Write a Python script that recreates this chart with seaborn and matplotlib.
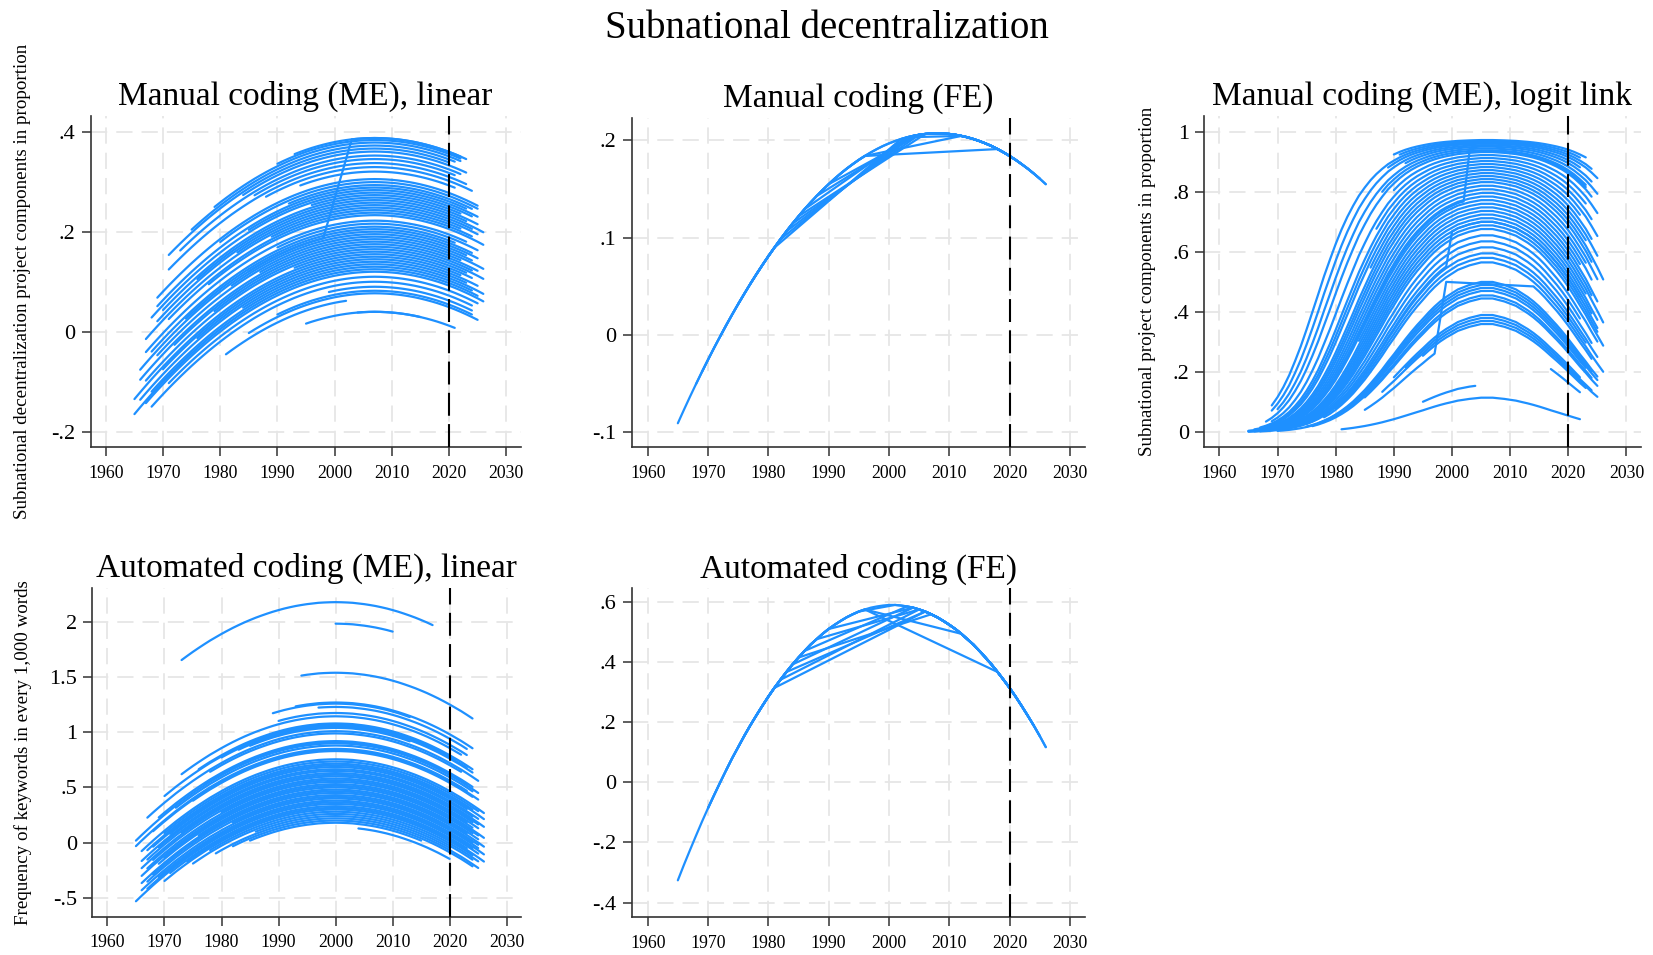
import numpy as np
import pandas as pd
import matplotlib
matplotlib.use("Agg")
import matplotlib.pyplot as plt
from matplotlib.ticker import FixedLocator, FixedFormatter
import seaborn as sns

# ------------------------------------------------------------------ data
TITLE = "Subnational decentralization"
PANEL_TITLES = ["Manual coding (ME), linear", "Manual coding (FE)",
                "Manual coding (ME), logit link",
                "Automated coding (ME), linear", "Automated coding (FE)"]
Y_LABELS = ["Subnational decentralization project components in proportion", "",
            "Subnational project components in proportion",
            "Frequency of keywords in every 1,000 words", ""]
X_TICKS = [1960, 1970, 1980, 1990, 2000, 2010, 2020, 2030]
CUTOFF_YEAR = 2020
FIRST_YEAR = 1965

Y_TICKS = [[-0.2, 0, 0.2, 0.4], [-0.1, 0, 0.1, 0.2], [0, 0.2, 0.4, 0.6, 0.8, 1],
           [-0.5, 0, 0.5, 1, 1.5, 2], [-0.4, -0.2, 0, 0.2, 0.4, 0.6]]
Y_TICK_LABELS = [["-.2", "0", ".2", ".4"], ["-.1", "0", ".1", ".2"],
                 ["0", ".2", ".4", ".6", ".8", "1"],
                 ["-.5", "0", ".5", "1", "1.5", "2"],
                 ["-.4", "-.2", "0", ".2", ".4", ".6"]]

# Panel 1: manual coding ME linear -- drop below each country's peak, 1965..2026
P1_DROP = [0.2893, 0.2757, 0.2624, 0.2494, 0.2368, 0.2245, 0.2125, 0.2009, 0.1896, 0.1786,
           0.1679, 0.1576, 0.1476, 0.1379, 0.1286, 0.1196, 0.1109, 0.1025, 0.0945, 0.0868,
           0.0794, 0.0723, 0.0656, 0.0592, 0.0531, 0.0474, 0.0420, 0.0369, 0.0321, 0.0277,
           0.0236, 0.0198, 0.0164, 0.0133, 0.0105, 0.0080, 0.0059, 0.0041, 0.0026, 0.0015,
           0.0007, 0.0002, 0.0000, 0.0002, 0.0007, 0.0015, 0.0026, 0.0041, 0.0059, 0.0080,
           0.0105, 0.0133, 0.0164, 0.0198, 0.0236, 0.0277, 0.0321, 0.0369, 0.0420, 0.0474,
           0.0531, 0.0592]
P1_START = [1993, 1990, 1979, 1975, 1971, 1984, 1973, 1986, 1971, 1988, 1994,
            1969, 1980, 1992, 1969, 1985, 1968, 1996, 1970, 1976, 1969, 1983, 1967, 1989, 1971, 1978,
            1967, 1990, 1968, 1974, 1966, 1982, 1969, 1987, 1966, 1972, 1979, 1967, 1993, 1965,
            1970, 1976, 1966, 1984, 1968, 1965, 1967,
            1971, 1968, 1999, 1990, 1985, 1981, 1995, 2004]
P1_END = [2023, 2022, 2022, 2021, 2020, 2023, 2022, 2021, 2023, 2024, 2021,
          2025, 2025, 2024, 2023, 2025, 2024, 2022, 2025, 2023, 2026, 2024, 2025, 2022, 2024, 2026,
          2023, 2025, 2021, 2024, 2025, 2023, 2024, 2026, 2022, 2025, 2024, 2026, 2023, 2024,
          2022, 2025, 2023, 2026, 2024, 2025, 2026,
          2025, 2024, 2024, 2024, 2025, 2002, 2021, 2015]
P1_PEAK = [0.387, 0.383, 0.378, 0.372, 0.366, 0.360, 0.352, 0.345, 0.337, 0.329, 0.320,
           0.305, 0.299, 0.293, 0.288, 0.283, 0.278, 0.273, 0.268, 0.263, 0.258, 0.253, 0.248,
           0.243, 0.238, 0.233,
           0.222, 0.216, 0.210, 0.205, 0.200, 0.195, 0.190, 0.185, 0.180, 0.175, 0.170, 0.165,
           0.160, 0.155, 0.150, 0.145, 0.140, 0.135, 0.130, 0.125, 0.120,
           0.110, 0.100, 0.090, 0.082, 0.077, 0.066, 0.040, 0.040]
# country whose level jumps between two spans: (start, end, peak)
P1_JUMPS = [[(1985, 1998, 0.200), (2003, 2022, 0.387)]]

# Panel 2: manual coding FE -- common fitted curve, 1965..2026
P2_CURVE = [-0.0907, -0.0770, -0.0636, -0.0506, -0.0379, -0.0255, -0.0134, -0.0017, 0.0098, 0.0209,
            0.0317, 0.0421, 0.0523, 0.0621, 0.0716, 0.0808, 0.0896, 0.0982, 0.1064, 0.1143,
            0.1218, 0.1291, 0.1360, 0.1426, 0.1489, 0.1548, 0.1605, 0.1658, 0.1708, 0.1754,
            0.1798, 0.1838, 0.1875, 0.1909, 0.1940, 0.1967, 0.1991, 0.2012, 0.2030, 0.2044,
            0.2056, 0.2064, 0.2068, 0.2070, 0.2068, 0.2064, 0.2056, 0.2044, 0.2030, 0.2012,
            0.1991, 0.1967, 0.1940, 0.1909, 0.1875, 0.1838, 0.1798, 0.1754, 0.1708, 0.1658,
            0.1605, 0.1548]
# observed year spans per country, in drawing order
P2_COUNTRIES = [[(1965, 2026)],
                [(1969, 1981), (2002, 2020)],
                [(1972, 1982), (2003, 2024)],
                [(1975, 1983), (2004, 2022)],
                [(1977, 1984), (2005, 2025)],
                [(1978, 1985), (2006, 2021)],
                [(1980, 1986), (2003, 2026)],
                [(1983, 1988), (2004, 2019)],
                [(1985, 1990), (2005, 2023)],
                [(1968, 1996), (2018, 2025)],
                [(1988, 1996), (2012, 2020)],
                [(1990, 2003), (2012, 2022)]]

# Panel 3: manual coding ME logit link -- drop on logit scale, 1965..2026
P3_LOGIT_DROP = [6.89, 6.56, 6.24, 5.92, 5.61, 5.31, 5.02, 4.74, 4.46, 4.20,
                 3.94, 3.69, 3.45, 3.21, 2.99, 2.77, 2.56, 2.36, 2.17, 1.98,
                 1.81, 1.64, 1.48, 1.33, 1.18, 1.05, 0.92, 0.80, 0.69, 0.59,
                 0.50, 0.41, 0.33, 0.26, 0.20, 0.15, 0.10, 0.07, 0.04, 0.02,
                 0.00, 0.00, 0.00, 0.02, 0.04, 0.07, 0.10, 0.15, 0.20, 0.26,
                 0.33, 0.41, 0.50, 0.59, 0.69, 0.80, 0.92, 1.05, 1.18, 1.33,
                 1.48, 1.64]
P3_START = [1990, 1991, 1969, 1989, 1969, 1992, 1970, 1988, 1968,
            1990, 1969, 1987, 1967, 1968, 1966, 1986, 1967, 1969, 1965, 1968, 1966, 1970, 1965,
            1967, 1984, 1966, 1968, 1965, 1969, 1966, 1967, 1965,
            1968, 1970, 1975, 1967, 1980, 1978, 1975, 1977, 1970, 1982, 1976, 1985,
            1990, 1992, 1988, 1995, 2017, 1995, 1981]
P3_END = [2023, 2022, 2024, 2025, 2022, 2024, 2025, 2023, 2024,
          2025, 2023, 2024, 2025, 2022, 2024, 2025, 2023, 2026, 2024, 2025, 2023, 2024, 2022,
          2025, 2024, 2026, 2023, 2025, 2024, 2022, 2025, 2026,
          2025, 2022, 2024, 2025, 2023, 2026, 2025, 2024, 2025, 2023, 2024, 2025,
          2022, 2024, 2025, 2023, 2022, 2004, 2022]
P3_PEAK = [0.972, 0.968, 0.964, 0.960, 0.955, 0.950, 0.944, 0.938, 0.932,
           0.922, 0.912, 0.902, 0.892, 0.882, 0.872, 0.862, 0.852, 0.842, 0.832, 0.820, 0.808,
           0.796, 0.784, 0.772, 0.760, 0.748, 0.736, 0.724, 0.712, 0.700, 0.688, 0.676,
           0.655, 0.635, 0.615, 0.595, 0.580, 0.565, 0.500, 0.490, 0.480, 0.470, 0.455, 0.445,
           0.390, 0.380, 0.370, 0.360, 0.305, 0.157, 0.115]
P3_JUMPS = [[(1985, 1997, 0.33), (1999, 1999, 0.55), (2014, 2024, 0.55)],
            [(1975, 1999, 0.60), (2000, 2025, 0.70)],
            [(1970, 2002, 0.78), (2003, 2023, 0.935)]]

# Panel 4: automated coding ME linear -- drop below each country's peak, 1965..2026
P4_DROP = [0.882, 0.832, 0.784, 0.737, 0.692, 0.648, 0.606, 0.564, 0.525, 0.487,
           0.450, 0.415, 0.381, 0.348, 0.318, 0.288, 0.260, 0.233, 0.208, 0.184,
           0.162, 0.141, 0.122, 0.104, 0.087, 0.072, 0.058, 0.046, 0.035, 0.026,
           0.018, 0.012, 0.006, 0.003, 0.001, 0.000, 0.001, 0.003, 0.006, 0.012,
           0.018, 0.026, 0.035, 0.046, 0.058, 0.072, 0.087, 0.104, 0.122, 0.141,
           0.162, 0.184, 0.208, 0.233, 0.260, 0.288, 0.318, 0.348, 0.381, 0.415,
           0.450, 0.487]
P4_START = [1973, 2000, 1994, 1993, 1989, 1997, 1990, 1973, 1976, 1970, 1980, 1983, 1985, 1967,
            1978, 1969, 1977, 1965, 1972, 1965, 1968, 1975,
            1966, 1970, 1967, 1968, 1971, 1966, 1969, 1967, 1973, 1966, 1968, 1980, 1967, 1966,
            1970, 1969, 1976, 1966, 1968, 1967, 1982, 1966, 1969, 1967, 1965, 1971, 1974, 1970,
            1978, 1975, 1986, 1979, 1982, 1985, 2004]
P4_END = [2017, 2010, 2024, 2024, 2013, 2023, 2023, 2022, 2024, 2021, 2023, 2024, 2013, 2025,
          2022, 2024, 2023, 2025, 2024, 2023, 2025, 2024,
          2026, 2025, 2024, 2026, 2023, 2025, 2024, 2026, 2025, 2024, 2025, 2023, 2024, 2026,
          2025, 2024, 2025, 2023, 2026, 2025, 2024, 2025, 2026, 2024, 2025, 2023, 2026, 2024,
          2025, 2024, 2020, 2025, 2024, 2015, 2020]
P4_PEAK = [2.18, 1.985, 1.54, 1.27, 1.26, 1.23, 1.175, 1.145, 1.08, 1.07, 1.06, 1.05, 1.04, 1.01,
           0.99, 0.92, 0.91, 0.90, 0.88, 0.85, 0.84, 0.83,
           0.755, 0.735, 0.715, 0.700, 0.685, 0.665, 0.650, 0.630, 0.615, 0.600, 0.580, 0.565,
           0.550, 0.530, 0.515, 0.500, 0.480, 0.465, 0.450, 0.430, 0.415, 0.400, 0.380, 0.365,
           0.350, 0.330, 0.315, 0.300, 0.280, 0.260, 0.240, 0.220, 0.200, 0.180, 0.140]

# Panel 5: automated coding FE -- common fitted curve, 1965..2026
P5_CURVE = [-0.326, -0.275, -0.226, -0.178, -0.131, -0.086, -0.043, -0.001, 0.040, 0.080,
            0.117, 0.154, 0.189, 0.222, 0.254, 0.285, 0.314, 0.341, 0.367, 0.392,
            0.415, 0.437, 0.458, 0.476, 0.494, 0.510, 0.524, 0.537, 0.549, 0.559,
            0.568, 0.575, 0.581, 0.585, 0.588, 0.590, 0.590, 0.588, 0.585, 0.581,
            0.575, 0.568, 0.559, 0.549, 0.537, 0.524, 0.510, 0.494, 0.476, 0.458,
            0.437, 0.415, 0.392, 0.367, 0.341, 0.314, 0.285, 0.254, 0.222, 0.189,
            0.154, 0.117]
P5_COUNTRIES = [[(1965, 2026)],
                [(1970, 1981), (2006, 2024)],
                [(1973, 1982), (2005, 2022)],
                [(1975, 1983), (2006, 2025)],
                [(1976, 1984), (2004, 2020)],
                [(1978, 1985), (2007, 2026)],
                [(1979, 1986), (2003, 2023)],
                [(1980, 1988), (2005, 2024)],
                [(1982, 1990), (2004, 2021)],
                [(1970, 1996), (2018, 2025)],
                [(1985, 1996), (2012, 2019)],
                [(1988, 1995), (2001, 2020)]]

# ------------------------------------------------------------------ frames
def me_frame(drop, starts, ends, peaks, jumps=(), logit=False):
    rows = []
    uid = 0

    def level(peak, d):
        if logit:
            z = np.log(peak / (1 - peak)) - d
            return 1.0 / (1.0 + np.exp(-z))
        return peak - d

    for s, e, p in zip(starts, ends, peaks):
        for yr in range(s, e + 1):
            rows.append((uid, yr, level(p, drop[yr - FIRST_YEAR])))
        uid += 1
    for spans in jumps:
        for s, e, p in spans:
            for yr in range(s, e + 1):
                rows.append((uid, yr, level(p, drop[yr - FIRST_YEAR])))
        uid += 1
    return pd.DataFrame(rows, columns=["unit", "year", "value"])


def fe_frame(curve, countries):
    rows = []
    for uid, spans in enumerate(countries):
        for s, e in spans:
            for yr in range(s, e + 1):
                rows.append((uid, yr, curve[yr - FIRST_YEAR]))
    return pd.DataFrame(rows, columns=["unit", "year", "value"])


frames = [me_frame(P1_DROP, P1_START, P1_END, P1_PEAK, P1_JUMPS),
          fe_frame(P2_CURVE, P2_COUNTRIES),
          me_frame(P3_LOGIT_DROP, P3_START, P3_END, P3_PEAK, P3_JUMPS, logit=True),
          me_frame(P4_DROP, P4_START, P4_END, P4_PEAK),
          fe_frame(P5_CURVE, P5_COUNTRIES)]

# ------------------------------------------------------------------ style
sns.set_theme(style="white")
plt.rcParams["font.family"] = ["Liberation Serif", "DejaVu Serif"]
plt.rcParams["axes.unicode_minus"] = False

W, H = 1653, 955
fig = plt.figure(figsize=(W / 100, H / 100), dpi=100)
fig.patch.set_facecolor("white")

# plot regions in pixels: left, top, right, bottom
BOXES = [(90.7, 116, 520.5, 447), (631.7, 118, 1085, 447.3), (1204, 116, 1641, 447.3),
         (92.3, 587.7, 521, 916.7), (631.7, 588.4, 1085, 917)]
YLIMS = [(-0.230, 0.431), (-0.1154, 0.2228), (-0.050, 1.052), (-0.672, 2.311), (-0.448, 0.645)]
YLABEL_X = [23, None, 1147, 23, None]

BLUE = "#1E90FF"
SPINE = "#333333"
GRID = "#e6e6e6"

for i, df in enumerate(frames):
    l, t, r, b = BOXES[i]
    ax = fig.add_axes([l / W, 1 - b / H, (r - l) / W, (b - t) / H])
    ax.set_facecolor("white")
    ax.set_axisbelow(True)
    ax.grid(True, color=GRID, lw=1.3, linestyle=(0, (9, 5)))
    sns.lineplot(data=df, x="year", y="value", units="unit", estimator=None,
                 sort=False, color=BLUE, lw=1.6, ax=ax, legend=False)
    ax.axvline(CUTOFF_YEAR, color="black", lw=1.5, dashes=(11, 4), zorder=5)
    ax.set_xlim(1957.35, 2032.5)
    ax.set_ylim(*YLIMS[i])
    ax.xaxis.set_major_locator(FixedLocator(X_TICKS))
    ax.xaxis.set_major_formatter(FixedFormatter([str(x) for x in X_TICKS]))
    ax.yaxis.set_major_locator(FixedLocator(Y_TICKS[i]))
    ax.yaxis.set_major_formatter(FixedFormatter(Y_TICK_LABELS[i]))
    for side in ("top", "right"):
        ax.spines[side].set_visible(False)
    for side in ("left", "bottom"):
        ax.spines[side].set_color(SPINE)
        ax.spines[side].set_linewidth(1.2)
    ax.tick_params(axis="both", direction="out", length=6.8, width=1.1, color=SPINE,
                   labelcolor="black", left=True, bottom=True)
    ax.tick_params(axis="x", labelsize=12.8, pad=6)
    ax.tick_params(axis="y", labelsize=16, pad=4)
    ax.set_xlabel("")
    ax.set_title(PANEL_TITLES[i], fontsize=24, pad=8, color="black")
    if Y_LABELS[i]:
        ax.set_ylabel(Y_LABELS[i], fontsize=13.7, color="black")
        ax.yaxis.label.set_va("center")
        ax.yaxis.set_label_coords(YLABEL_X[i] / W, 1 - ((t + b) / 2) / H,
                                  transform=fig.transFigure)
    else:
        ax.set_ylabel("")

fig.text(0.5, 1 - 38 / H, TITLE, ha="center", va="baseline", fontsize=28, color="black")

fig.savefig("out.png", dpi=100, facecolor="white")
